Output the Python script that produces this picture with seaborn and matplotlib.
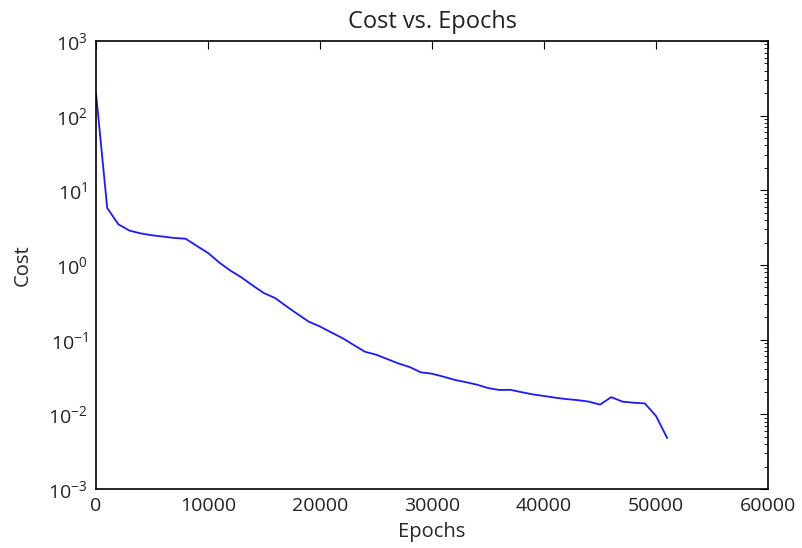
import matplotlib
matplotlib.use("Agg")
import matplotlib.pyplot as plt
from matplotlib.ticker import NullFormatter
import seaborn as sns
import pandas as pd

epochs = [0, 1000, 2000, 3000, 4000, 5000, 6000, 7000, 8000, 9000,
          10000, 11000, 12000, 13000, 14000, 15000, 16000, 17000, 18000, 19000,
          20000, 21000, 22000, 23000, 24000, 25000, 26000, 27000, 28000, 29000,
          30000, 31000, 32000, 33000, 34000, 35000, 36000, 37000, 38000, 39000,
          40000, 41000, 42000, 43000, 44000, 45000, 46000, 47000, 48000, 49000,
          50000, 51000]
cost = [200, 5.8, 3.5, 2.88, 2.65, 2.5, 2.4, 2.3, 2.25, 1.8,
        1.45, 1.08, 0.84, 0.68, 0.53, 0.42, 0.36, 0.28, 0.22, 0.174,
        0.15, 0.125, 0.105, 0.085, 0.069, 0.063, 0.055, 0.048, 0.043, 0.0365,
        0.035, 0.032, 0.029, 0.027, 0.025, 0.0225, 0.0212, 0.0213, 0.0198, 0.0185,
        0.0176, 0.0167, 0.016, 0.0155, 0.0148, 0.0135, 0.017, 0.0148, 0.0143, 0.014,
        0.0095, 0.0048]

x_ticks = [0, 10000, 20000, 30000, 40000, 50000, 60000]

df = pd.DataFrame({"Epochs": epochs, "Cost": cost})

sns.set_style("white")
plt.rcParams['font.family'] = ['Open Sans', 'DejaVu Sans']
plt.rcParams['mathtext.fontset'] = 'custom'
plt.rcParams['mathtext.rm'] = 'Open Sans'
plt.rcParams['mathtext.it'] = 'Open Sans'
plt.rcParams['mathtext.default'] = 'regular'
plt.rcParams['text.color'] = '#222222'
plt.rcParams['xtick.color'] = 'black'
plt.rcParams['ytick.color'] = 'black'
plt.rcParams['xtick.labelcolor'] = '#222222'
plt.rcParams['ytick.labelcolor'] = '#222222'

fig = plt.figure(figsize=(8.02, 5.48), dpi=100)
ax = fig.add_axes([96/802, 59/548, 672/802, 448/548])
sns.lineplot(data=df, x="Epochs", y="Cost", ax=ax, color="#1a1aff", linewidth=1.3)
ax.set_yscale("log")
ax.set_xlim(0, 60000)
ax.set_ylim(1e-3, 1e3)
ax.set_xticks(x_ticks)
ax.set_xticklabels([str(t) for t in x_ticks])
ax.xaxis.set_minor_formatter(NullFormatter())
ax.yaxis.set_minor_formatter(NullFormatter())
ax.tick_params(axis='both', which='both', direction='in', top=True, right=True,
               labelsize=14)
ax.tick_params(which='major', length=6, width=0.8, pad=6)
ax.tick_params(which='minor', length=3, width=0.6)
for s in ax.spines.values():
    s.set_color('black')
    s.set_linewidth(1.2)
ax.set_title("Cost vs. Epochs", fontsize=17, pad=9)
ax.set_xlabel("Epochs", fontsize=14.5, labelpad=5)
ax.set_ylabel("Cost", fontsize=14.5, labelpad=11)
fig.savefig("out.png", dpi=100)
